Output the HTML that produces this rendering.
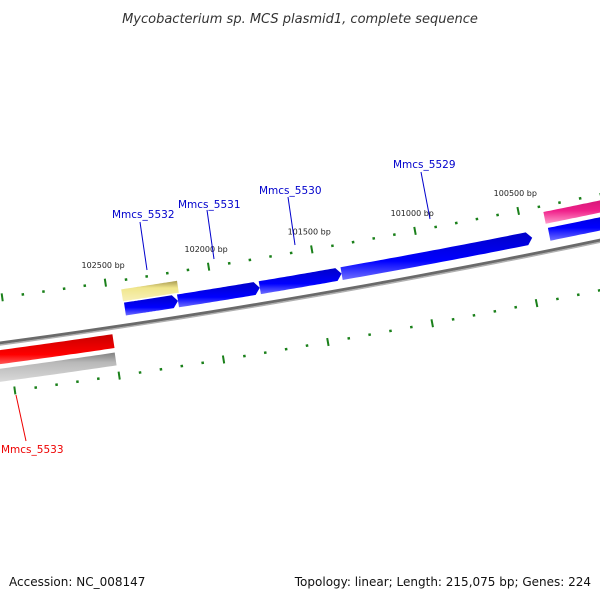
<!DOCTYPE html>
<html><head><meta charset="utf-8">
<style>
body{margin:0;background:#fff;}
#wrap{position:relative;width:600px;height:600px;overflow:hidden;font-family:"DejaVu Sans","Liberation Sans",sans-serif;}
svg{position:absolute;left:0;top:0;}
</style></head>
<body>
<div id="wrap">
<svg id="map" width="600" height="600" viewBox="0 0 600 600">
  <defs>
    <linearGradient id="gBlue" x1="0" y1="0" x2="0" y2="1"><stop offset="0" stop-color="#0000c8"/><stop offset="0.6" stop-color="#0000ff"/><stop offset="1" stop-color="#7070ff"/></linearGradient>
    <linearGradient id="gRed" x1="0" y1="0" x2="0" y2="1"><stop offset="0" stop-color="#c80000"/><stop offset="0.6" stop-color="#ff0000"/><stop offset="1" stop-color="#ff8080"/></linearGradient>
    <linearGradient id="gPink" x1="0" y1="0" x2="0" y2="1"><stop offset="0" stop-color="#c0106a"/><stop offset="0.6" stop-color="#f0208a"/><stop offset="1" stop-color="#ff9ccc"/></linearGradient>
    <linearGradient id="gYel" x1="0" y1="0" x2="0" y2="1"><stop offset="0" stop-color="#a89a50"/><stop offset="0.35" stop-color="#f0e68c"/><stop offset="1" stop-color="#f8f0b8"/></linearGradient>
    <linearGradient id="gGray" x1="0" y1="0" x2="0" y2="1"><stop offset="0" stop-color="#808080"/><stop offset="0.3" stop-color="#b8b8b8"/><stop offset="1" stop-color="#e0e0e0"/></linearGradient>
  </defs>
  <text x="300" y="23" text-anchor="middle" font-size="13" font-style="italic" fill="#333">Mycobacterium sp. MCS plasmid1, complete sequence</text>
  <text x="9" y="586" font-size="12" fill="#111">Accession: NC_008147</text>
  <text x="591" y="586" text-anchor="end" font-size="12" fill="#111">Topology: linear; Length: 215,075 bp; Genes: 224</text>
  <g id="layer"></g>
</svg>
</div>
<script>
// ---- data ----
const tickMajorBp = [103000, 102500, 102000, 101500, 101000, 100500, 100000];
const tickLabels = ["102500 bp","102000 bp","101500 bp","101000 bp","100500 bp"];
const tickLabelBp = [102500, 102000, 101500, 101000, 100500];
const geneNames = ["Mmcs_5532","Mmcs_5531","Mmcs_5530","Mmcs_5529","Mmcs_5533"];
const fwdStarts = [102426, 102170, 101775, 101380, 100378];
const fwdEnds   = [102170, 101775, 101380, 100460, 99900];
const yellowStart = [102430], yellowEnd = [102160];
const pinkStart = [100384], pinkEnd = [99900];
const redStart = [103200], redEnd = [102503];
const grayStart = [103200], grayEnd = [102505];

// ---- axis functions ----
const NS = "http://www.w3.org/2000/svg";
const layer = document.getElementById('layer');
function bx(bp){ return 112 + (102500 - bp) * 0.2075; }
function by(x){ return 343 - 0.1347*x - 6.1e-5*x*x; }
function pt(bp, d){ const x=bx(bp); const s=-0.1347-1.22e-4*x; const n=Math.sqrt(1+s*s); return [x + d*s/n, by(x) - d/n]; }
function mk(tag, attrs, name){ const e=document.createElementNS(NS,tag); for(const k in attrs) e.setAttribute(k,attrs[k]);   layer.appendChild(e); return e; }
function arcPts(b0,b1,d){ const r=[]; const N=30; for(let i=0;i<=N;i++){ const b=b0+(b1-b0)*i/N; r.push(pt(b,d)); } return r; }
function band(b0,b1,dc,h,fill,name,arrow){
  const top=arcPts(b0, arrow? b1+25 : b1, dc+h/2);
  const bot=arcPts(b0, arrow? b1+25 : b1, dc-h/2).reverse();
  let pts=top.slice();
  if(arrow){ pts.push(pt(b1, dc)); }
  pts=pts.concat(bot);
  const e=mk('polygon',{points:pts.map(p=>p[0].toFixed(1)+','+p[1].toFixed(1)).join(' '),fill:fill},name);
  
}

// backbone
const bb=arcPts(103300, 99500, 0);
mk('polyline',{points:bb.map(p=>p.join(',')).join(' '),fill:'none',stroke:'#6a6a6a','stroke-width':3},'backbone');
const bb2=arcPts(103300, 99500, -2);
mk('polyline',{points:bb2.map(p=>p.join(',')).join(' '),fill:'none',stroke:'#b0b0b0','stroke-width':1.5},'backbone-shadow');

// ticks (upper d=45, lower d=-49)
[[45,'upper'],[-49,'lower']].forEach(([d,nm])=>{
  for(let b=103400;b>=99400;b-=100){
    const major = tickMajorBp.indexOf(b)>=0;
    const len = major?8:2.5;
    const a=pt(b,d-len/2), c=pt(b,d+len/2);
    mk('line',{x1:a[0],y1:a[1],x2:c[0],y2:c[1],stroke:'#1a801a','stroke-width':major?2:2.5},(major?'major-tick-':'minor-tick-')+nm);
  }
});
tickLabelBp.forEach((b,i)=>{
  const p=pt(b,58);
  mk('text',{x:p[0]-22,y:p[1]-2,'font-size':8,fill:'#222'},'tick-label').textContent=tickLabels[i];
});

// features
fwdStarts.forEach((s,i)=>band(s,fwdEnds[i],16,13,'url(#gBlue)','forward-gene',true));
band(yellowStart[0],yellowEnd[0],30,12,'url(#gYel)','yellow-feature',false);
band(pinkStart[0],pinkEnd[0],33,12,'url(#gPink)','pink-feature',false);
band(redStart[0],redEnd[0],-14,14,'url(#gRed)','reverse-gene',false);
band(grayStart[0],grayEnd[0],-32,13,'url(#gGray)','gray-feature',false);

// gene labels with leader lines
const labelPos=[[112,218,140,222,147,270,'#00c'],[178,208,207,210,214,259,'#00c'],[259,194,288,197,295,245,'#00c'],[393,168,421,172,430,219,'#00c'],[1,453,16,395,26,441,'#e00']];
geneNames.forEach((n,i)=>{
  const L=labelPos[i];
  mk('line',{x1:L[2],y1:L[3],x2:L[4],y2:L[5],stroke:L[6],'stroke-width':1},'label-leader');
  mk('text',{x:L[0],y:L[1],'font-size':10.5,fill:L[6]},'gene-label').textContent=n;
});
</script>
</body></html>
